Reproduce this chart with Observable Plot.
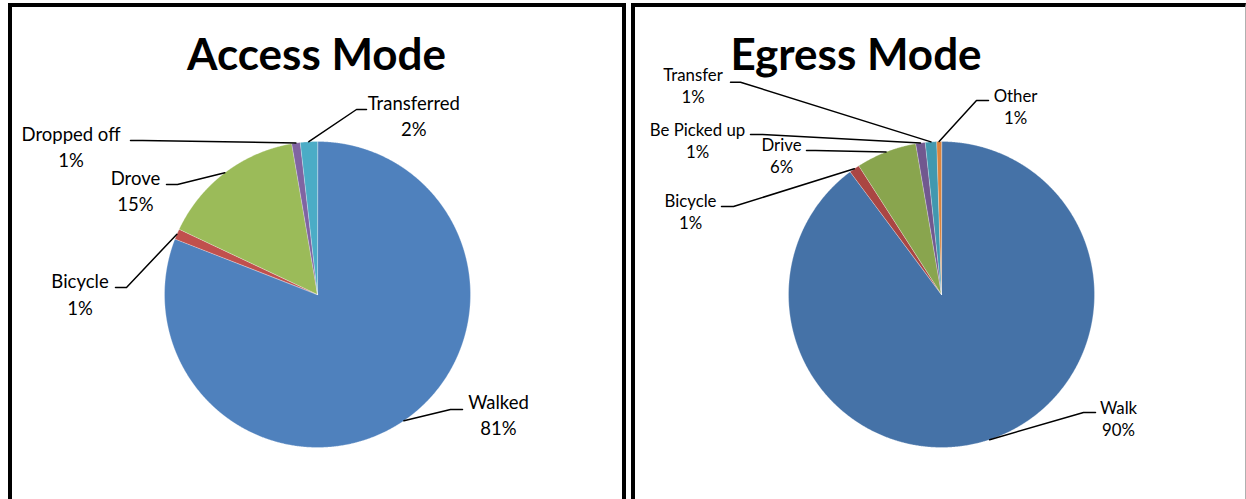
<!DOCTYPE html>
<html><head><meta charset="utf-8">
<script src="https://cdn.jsdelivr.net/npm/d3@7"></script>
<script src="https://cdn.jsdelivr.net/npm/@observablehq/plot@0.6"></script>
<style>
html,body{margin:0;padding:0;background:#fff;width:1246px;height:499px;overflow:hidden}
.panel{position:absolute;box-sizing:border-box;background:#fff}
#left{left:8px;top:3px;width:618px;height:530px;border:4px solid #000;border-bottom:none}
#right{left:631px;top:3px;width:615px;height:530px;border-left:4px solid #000;border-top:4px solid #000;border-right:1px solid #b0b0b0}
.panel svg{position:absolute;left:0;top:0}
</style></head>
<body>
<div id="left" class="panel"></div>
<div id="right" class="panel"></div>
<script>
// ---- data ----
const accessTitle = "Access Mode";
const accessModes = ["Walked", "Bicycle", "Drove", "Dropped off", "Transferred"];
const accessShares = [80.9, 1.1, 15.3, 0.9, 1.8];
const accessColors = ["#4F81BD", "#C0504D", "#9BBB59", "#8064A2", "#4BACC6"];

const egressTitle = "Egress Mode";
const egressModes = ["Walk", "Bicycle", "Drive", "Be Picked up", "Transfer", "Other"];
const egressShares = [89.8, 1.1, 6.4, 1.0, 1.2, 0.5];
const egressColors = ["#4572A7", "#AA4643", "#89A54E", "#71588F", "#4198AF", "#DB843D"];

// ---- layout (pixel offsets from pie centre) ----
const R = 153;
const accessLayout = {
  width: 610, height: 492, cx: 305, cy: 287,
  title: [-1, -225], fontSize: 18.5, lineGap: 26.5,
  labels: {
    "Walked":      {at: [181, 114],   elbow: [133, 115],  end: [145, 115]},
    "Bicycle":     {at: [-237.5, -6.5], elbow: [-191, -7], end: [-202, -7]},
    "Drove":       {at: [-182, -110], elbow: [-140, -110], end: [-151, -110]},
    "Dropped off": {at: [-246.5, -154], elbow: [-175, -154], end: [-187, -154]},
    "Transferred": {at: [96.3, -184.7], elbow: [39, -185], end: [49, -185]}
  }
};
const egressLayout = {
  width: 610, height: 492, cx: 306, cy: 287,
  title: [-85.5, -225], fontSize: 16.8, lineGap: 22,
  labels: {
    "Walk":         {at: [177, 119],    elbow: [142, 118],   end: [154, 118]},
    "Bicycle":      {at: [-251, -87.3], elbow: [-208, -88],  end: [-220, -88]},
    "Drive":        {at: [-160, -144],  elbow: [-126, -144], end: [-135, -144]},
    "Be Picked up": {at: [-244, -159],  elbow: [-179, -160], end: [-191, -160]},
    "Transfer":     {at: [-248.5, -213.3], elbow: [-201, -212.3], end: [-211, -212.3]},
    "Other":        {at: [74, -193],    elbow: [35, -194],   end: [47, -194]}
  }
};

function pieChart(title, modes, shares, colors, L) {
  const rows = modes.map((mode, i) => ({mode, share: shares[i]}));
  const arcs = d3.pie().sort(null).value(d => d.share)(rows);
  const slices = arcs.map(a => {
    const n = Math.max(2, Math.ceil((a.endAngle - a.startAngle) / 0.004));
    const ring = [[0, 0]];
    for (let i = 0; i <= n; i++) {
      const t = a.startAngle + (a.endAngle - a.startAngle) * i / n;
      ring.push([R * Math.sin(t), -R * Math.cos(t)]);
    }
    ring.push([0, 0]);
    return {type: "Feature", properties: {mode: a.data.mode}, geometry: {type: "Polygon", coordinates: [ring]}};
  });
  const leaders = arcs.map(a => {
    const m = (a.startAngle + a.endAngle) / 2;
    const p = L.labels[a.data.mode];
    return {type: "Feature", properties: {mode: a.data.mode},
      geometry: {type: "LineString", coordinates: [[R * Math.sin(m), -R * Math.cos(m)], p.elbow, p.end]}};
  });
  const labels = rows.map(r => ({
    name: r.mode, pct: `${Math.round(r.share)}%`,
    x: L.labels[r.mode].at[0], y: L.labels[r.mode].at[1]
  }));
  const domain = {type: "MultiPoint", coordinates: [[-L.cx, -L.cy], [L.width - L.cx, L.height - L.cy]]};
  return Plot.plot({
    width: L.width, height: L.height, margin: 0,
    projection: {type: "identity", domain, inset: 0},
    color: {domain: modes, range: colors},
    style: {background: "transparent", fontFamily: "Lato, 'Open Sans', sans-serif", overflow: "visible"},
    marks: [
      Plot.geo(slices, {fill: d => d.properties.mode, stroke: "white", strokeWidth: 0.5, strokeOpacity: 0.6}),
      Plot.geo(leaders, {stroke: "#000", strokeWidth: 1.5, fill: "none"}),
      Plot.text(labels, {x: "x", y: "y", text: "name", fontSize: L.fontSize, fill: "#000", textAnchor: "middle", lineAnchor: "bottom"}),
      Plot.text(labels, {x: "x", y: d => d.y + L.lineGap, text: "pct", fontSize: L.fontSize, fill: "#000", textAnchor: "middle", lineAnchor: "bottom"}),
      Plot.text([title], {x: () => L.title[0], y: () => L.title[1], text: d => d, fontSize: 44, fontWeight: "bold", fill: "#000", textAnchor: "middle", lineAnchor: "bottom"})
    ]
  });
}

document.getElementById("left").append(pieChart(accessTitle, accessModes, accessShares, accessColors, accessLayout));
document.getElementById("right").append(pieChart(egressTitle, egressModes, egressShares, egressColors, egressLayout));
</script>
</body></html>
